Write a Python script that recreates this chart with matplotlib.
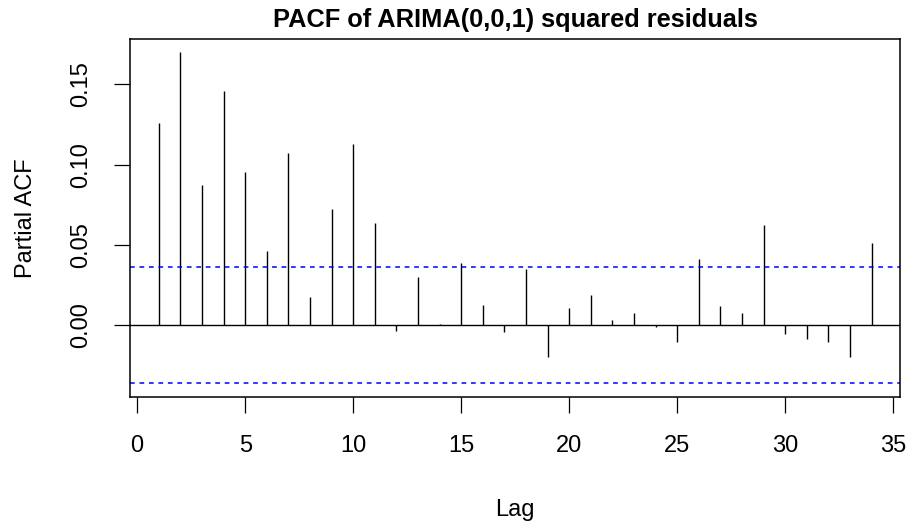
#!/usr/bin/env python3
"""
PACF of ARIMA(0,0,1) squared residuals, drawn in the style of R's plot.acf.
"""

import numpy as np
import matplotlib
matplotlib.use("Agg")
import matplotlib.pyplot as plt

# Values
lags = np.arange(1, 35)
pacf_vals = [
    0.1261, 0.1698, 0.0872, 0.1460, 0.0953, 0.0460, 0.1073, 0.0176, 0.0723, 0.1129,
    0.0638, -0.0037, 0.0298, 0.0010, 0.0388, 0.0129, -0.0039, 0.0352, -0.0196, 0.0108,
    0.0191, 0.0031, 0.0077, -0.0008, -0.0106, 0.0412, 0.0122, 0.0075, 0.0624, -0.0052,
    -0.0083, -0.0101, -0.0196, 0.0512,
]
conf_limit = 0.0362
x_ticks = [0, 5, 10, 15, 20, 25, 30, 35]
y_ticks = [0.00, 0.05, 0.10, 0.15]
y_tick_labels = ["0.00", "0.05", "0.10", "0.15"]

plt.rcParams['font.family'] = ['Liberation Sans', 'DejaVu Sans']

fig = plt.figure(figsize=(9.11, 5.22), dpi=100)
ax = fig.add_axes([0.143, 0.240, 0.845, 0.685])

# R-like axis range: data range extended by 4%
lo = min(min(pacf_vals), -conf_limit)
hi = max(max(pacf_vals), conf_limit)
yr = hi - lo
xr = lags.max() - lags.min()
ax.set_xlim(lags.min() - 0.04 * xr, lags.max() + 0.04 * xr)
ax.set_ylim(lo - 0.04 * yr, hi + 0.04 * yr)

ax.vlines(lags, 0, pacf_vals, color='black', lw=1.0)
ax.axhline(0, color='black', lw=1.0)
for c in (conf_limit, -conf_limit):
    ax.axhline(c, color='#0000FF', lw=1.1, linestyle=(0, (3.1, 3.1)))

for sp in ax.spines.values():
    sp.set_linewidth(1.1)

ax.set_xticks(x_ticks)
ax.set_yticks(y_ticks)
ax.set_yticklabels(y_tick_labels, rotation=90, va='center')
ax.tick_params(direction='out', length=11.5, width=0.9, labelsize=17, pad=16)

ax.set_title("PACF of ARIMA(0,0,1) squared residuals", fontsize=18.3,
             fontweight='bold', pad=9)
ax.set_xlabel("Lag", fontsize=17, labelpad=30)
ax.set_ylabel("Partial ACF", fontsize=17, labelpad=24)

fig.savefig("out.png", dpi=100)
